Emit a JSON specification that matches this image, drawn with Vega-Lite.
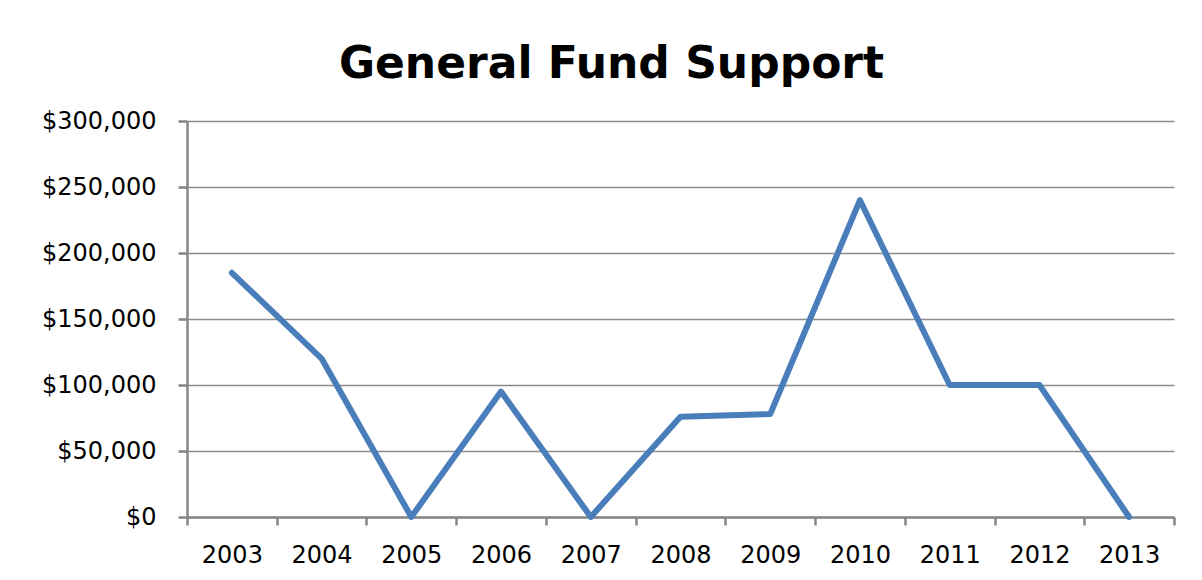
{
  "$schema": "https://vega.github.io/schema/vega-lite/v6.json",
  "autosize": "none",
  "width": 987,
  "height": 396,
  "padding": {"left": 187, "top": 121, "right": 28, "bottom": 63},
  "background": "white",
  "title": {
    "text": "General Fund Support",
    "font": "DejaVu Sans",
    "fontSize": 44,
    "fontWeight": "bold",
    "color": "black",
    "anchor": "middle",
    "frame": "group",
    "dx": -69,
    "offset": 22
  },
  "config": {
    "view": {"stroke": null},
    "axis": {
      "labelFont": "DejaVu Sans",
      "labelFontSize": 24,
      "labelColor": "black",
      "domainColor": "#868686",
      "tickColor": "#868686",
      "gridColor": "#8c8c8c",
      "domainWidth": 2.5,
      "tickWidth": 2.5,
      "gridWidth": 1.5,
      "title": null
    }
  },
  "data": {
    "values": [
      {"year": "2003", "amount": 185000},
      {"year": "2004", "amount": 120000},
      {"year": "2005", "amount": 0},
      {"year": "2006", "amount": 95000},
      {"year": "2007", "amount": 0},
      {"year": "2008", "amount": 76000},
      {"year": "2009", "amount": 78000},
      {"year": "2010", "amount": 240000},
      {"year": "2011", "amount": 100000},
      {"year": "2012", "amount": 100000},
      {"year": "2013", "amount": 0}
    ]
  },
  "mark": {"type": "line", "color": "#4a7ebb", "strokeWidth": 6, "strokeCap": "round", "strokeJoin": "round"},
  "encoding": {
    "x": {
      "field": "year",
      "type": "ordinal",
      "scale": {"type": "band", "paddingInner": 0, "paddingOuter": 0},
      "axis": {
        "labelAngle": 0,
        "tickBand": "extent",
        "tickSize": 8,
        "labelPadding": 18,
        "grid": false
      }
    },
    "y": {
      "field": "amount",
      "type": "quantitative",
      "scale": {"domain": [0, 300000], "nice": false},
      "axis": {
        "values": [0, 50000, 100000, 150000, 200000, 250000, 300000],
        "format": "$,.0f",
        "tickSize": 9,
        "labelPadding": 22,
        "grid": true
      }
    }
  }
}
